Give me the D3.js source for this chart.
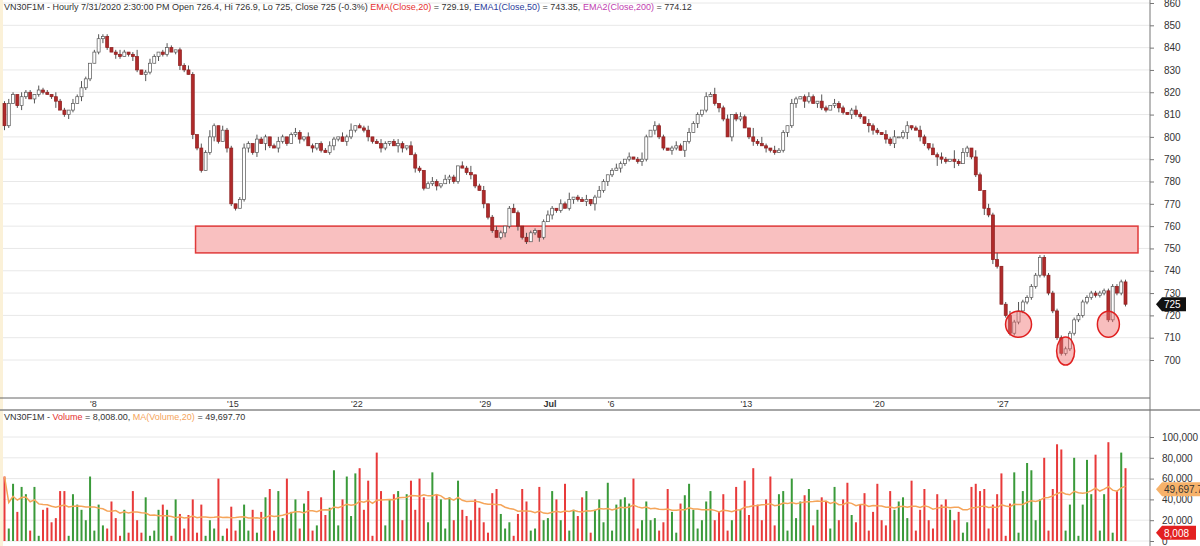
<!DOCTYPE html>
<html>
<head>
<meta charset="utf-8">
<script src="https://cdnjs.cloudflare.com/ajax/libs/d3/7.8.5/d3.min.js"></script>
<style>
	body { margin: 0; background: #fff; }
	text { font-family: "Liberation Sans", Arial, sans-serif; }
</style>
</head>
<body>
<svg id="chart" width="1200" height="546"></svg>
<script>
//===== DATA =====//

var closes = [805,815, 819,814,818,820,817,819,821,820,819,818, 816,812,810,812, 815,818,822,826, 833,838,
	844,845,840, 838,837,836,838,837,836, 830,828,829, 833,836,838,837, 840,838,839, 832,830,828, 801, 795,785,
	793,800,805,798, 803,795, 770,768,772, 795,797,793,799,797,800,796,795,798,800,797,801,802,799,
	800,796,795,797,794, 793,796,799,800,798,800, 803,805,804,803, 800,798,797,795, 797,798,796,797,795,796,
	792,786,785, 777,779,780,778,779, 781,782,780, 787,786,784,783, 778,776, 770,764,758,755, 757,760, 768,766,
	760,755,753, 757,758,755, 762,765,768,767,770, 768,772,773, 772,771,772,770, 773,776,780,783,785,
	786,788,790,791,790,789,790, 800,803,805, 800,795,794, 795,796,794, 798,802,806,810,812, 818,819,
	815,813,808, 800, 810,808,809, 804,800,798,797, 796,795,794,793,794, 802,805, 815,817, 818,816,818,815,816,
	813,812,814,815,813, 811,810,812,810,809, 806,805,803,802,801, 799,797, 800,800, 802,805,804,803,
	800,797,795, 792,791,790,789,790, 789,788,793, 795,791, 783,776, 768,765, 745,742, 725,720,712,
	717,722,726,728, 733,738,746, 738, 730,722, 710,703, 705,712,718, 720,726,728, 730,729,730, 731, 718,
	733,730,735,725];

// wick extension above / below the body, in points
var wickHi = '1210211021102110213101211012101301210121011210213102110121021101210121021011210213011201210121021101210211021301201210121021101210213011201210121020131021101210211021301201210413102110210121031021101210211021301201210212104121031021301214';
var wickLo = '2101210211013012102110121021012103102110121021101210211012120310211012102110121021101210211032102110121021101210211012102110121021101210213012102110121021102103102110121021101210211012120310211012102110321021201310211042103102110312101';

// volume, thousands
var volumes = [62,12,55,28,52,45,10,52,5,30,
	32,18,22,48,48,5,45,35,30,20,
	62,10,35,15,12,38,22,5,30,8,
	48,20,8,42,5,10,30,35,30,5,
	40,26,12,25,40,8,35,5,20,12,
	60,5,12,33,10,20,35,10,30,8,
	28,42,50,10,48,22,60,28,40,12,
	36,48,10,15,42,25,32,68,15,40,
	62,24,65,70,30,58,5,85,48,15,
	40,45,48,20,45,58,30,60,42,18,
	66,45,40,12,42,20,58,30,24,20,
	40,32,18,8,46,50,26,12,18,5,
	26,50,38,10,12,52,20,22,48,40,
	20,55,10,30,24,42,48,8,30,40,
	18,56,10,35,40,42,36,60,12,20,
	38,20,22,10,18,50,28,8,36,44,
	55,30,12,20,38,48,20,28,45,10,
	20,52,30,58,25,70,35,20,40,62,
	15,45,48,10,60,22,38,44,50,15,
	30,42,38,12,52,20,40,56,25,18,
	35,46,10,28,55,20,15,48,30,38,
	42,22,58,10,30,50,20,12,45,35,
	40,30,20,28,8,18,52,55,48,50,
	12,35,45,65,5,36,66,8,48,75,
	68,20,40,80,10,50,93,88,10,35,
	80,5,35,78,45,83,10,45,95,8,
	48,85,70,50,80,8,8];

var priceTicks = d3.range(700, 861, 10);
var volumeTicks = [0, 20000, 40000, 60000, 80000, 100000];
var dateLabels = [
	{i: 20, label: "'8"}, {i: 52, label: "'15"}, {i: 81, label: "'22"}, {i: 111, label: "'29"},
	{i: 126, label: 'Jul'}, {i: 141, label: "'6"}, {i: 172, label: "'13"}, {i: 203, label: "'20"},
	{i: 232, label: "'27"}
];
var zone = {top: 760, bottom: 748, from: 45};
var circles = [{i: 237, p: 716, rx: 13, ry: 13}, {i: 248, p: 704, rx: 9, ry: 14}, {i: 258, p: 716, rx: 11, ry: 13}];

//===== BUILD CANDLES =====//

var candles = closes.map(function (c, i) {
	var o = i === 0 ? 815 : closes[i - 1];
	var hi = +(wickHi[i] || 1), lo = +(wickLo[i] || 1);
	return {i: i, open: o, close: c, high: Math.max(o, c) + hi, low: Math.min(o, c) - lo,
		volume: (volumes[i] || 10) * 1000};
});
candles.forEach(function (d, i) {
	var win = candles.slice(Math.max(0, i - 19), i + 1);
	d.ma = d3.mean(win, function (w) { return w.volume; });
});

//===== SCALES =====//

var svg = d3.select('#chart');
var axisX = 1150;
var x = d3.scaleBand().domain(d3.range(candles.length)).range([3, 1127]).paddingInner(0.3);
var y = d3.scaleLinear().domain([700, 860]).range([360, 3]);
var yv = d3.scaleLinear().domain([0, 100000]).range([541, 437]);
function cx(i) { return x(i) + x.bandwidth() / 2; }

svg.append('rect').attr('x', 0).attr('y', 0).attr('width', 3).attr('height', 546).attr('fill', '#fbf1d8');

// grid
svg.append('g').selectAll('line').data(priceTicks).enter().append('line')
	.attr('x1', 3).attr('x2', axisX).attr('y1', y).attr('y2', y)
	.attr('stroke', '#e8e8e8');
svg.append('g').selectAll('line').data(volumeTicks).enter().append('line')
	.attr('x1', 3).attr('x2', axisX).attr('y1', yv).attr('y2', yv)
	.attr('stroke', '#e8e8e8');

// panel frames
svg.append('line').attr('x1', 0).attr('x2', axisX).attr('y1', 398).attr('y2', 398).attr('stroke', '#666');
svg.append('line').attr('x1', 0).attr('x2', 1200).attr('y1', 410).attr('y2', 410).attr('stroke', '#888').attr('stroke-width', 1.5);
svg.append('line').attr('x1', axisX).attr('x2', axisX).attr('y1', 0).attr('y2', 546).attr('stroke', '#777');

// axes
function styleAxis(g) {
	g.select('.domain').remove();
	g.selectAll('text').attr('font-size', 10).attr('fill', '#333');
	g.selectAll('line').attr('stroke', '#777');
}
svg.append('g').attr('transform', 'translate(' + axisX + ',0)')
	.call(d3.axisRight(y).tickValues(priceTicks).tickSize(4).tickPadding(10)).call(styleAxis);
svg.append('g').attr('transform', 'translate(' + axisX + ',0)')
	.call(d3.axisRight(yv).tickValues(volumeTicks).tickFormat(d3.format(',')).tickSize(4).tickPadding(8)).call(styleAxis);

// date labels
svg.append('g').selectAll('text').data(dateLabels).enter().append('text')
	.attr('x', function (d) { return cx(d.i); }).attr('y', 407)
	.attr('font-size', 9).attr('fill', '#333').attr('font-weight', function (d) { return d.label === 'Jul' ? 'bold' : 'normal'; })
	.text(function (d) { return d.label; });

// support zone
svg.append('rect')
	.attr('x', x(zone.from)).attr('width', 1138 - x(zone.from))
	.attr('y', y(zone.top)).attr('height', y(zone.bottom) - y(zone.top))
	.attr('fill', '#f9c0c0').attr('stroke', '#e03a3a').attr('stroke-width', 1.5);

// candles
var cg = svg.append('g');
cg.selectAll('line').data(candles).enter().append('line')
	.attr('x1', function (d) { return cx(d.i); }).attr('x2', function (d) { return cx(d.i); })
	.attr('y1', function (d) { return y(d.high); }).attr('y2', function (d) { return y(d.low); })
	.attr('stroke', '#555');
cg.selectAll('rect').data(candles).enter().append('rect')
	.attr('x', function (d) { return x(d.i); }).attr('width', x.bandwidth())
	.attr('y', function (d) { return y(Math.max(d.open, d.close)); })
	.attr('height', function (d) { return Math.max(1, Math.abs(y(d.open) - y(d.close))); })
	.attr('fill', function (d) { return d.close >= d.open ? '#fff' : '#b02a2a'; })
	.attr('stroke', function (d) { return d.close >= d.open ? '#555' : '#8a1f1f'; })
	.attr('stroke-width', 0.7);

// circles
svg.append('g').selectAll('ellipse').data(circles).enter().append('ellipse')
	.attr('cx', function (d) { return cx(d.i); }).attr('cy', function (d) { return y(d.p); })
	.attr('rx', function (d) { return d.rx; }).attr('ry', function (d) { return d.ry; })
	.attr('fill', 'rgba(240,110,110,0.45)').attr('stroke', '#e02020').attr('stroke-width', 1.5);

// volume bars
svg.append('g').selectAll('rect').data(candles).enter().append('rect')
	.attr('x', function (d) { return cx(d.i) - 1; }).attr('width', 2)
	.attr('y', function (d) { return yv(d.volume); })
	.attr('height', function (d) { return yv(0) - yv(d.volume); })
	.attr('fill', function (d) { return d.close >= d.open ? '#3a9a3a' : '#e83a3a'; });

var maLine = d3.line().x(function (d) { return cx(d.i); }).y(function (d) { return yv(d.ma); });
svg.append('path').datum(candles).attr('d', maLine)
	.attr('fill', 'none').attr('stroke', '#f5a55a').attr('stroke-width', 1.5);

// value badges
function badge(yPos, txt, fill, color, w) {
	var g = svg.append('g');
	g.append('path').attr('d', 'M' + (axisX + 6) + ',' + yPos + 'l6,-7h' + w + 'v14h-' + w + 'z').attr('fill', fill);
	g.append('text').attr('x', axisX + 14).attr('y', yPos + 4).attr('font-size', 10).attr('fill', color).text(txt);
}
var last = candles[candles.length - 1];
badge(y(last.close), '725', '#111', '#fff', 24);
badge(yv(49697.7), '49,697.7', '#f7b26a', '#333', 50);
badge(yv(8008), '8,008', '#e32020', '#fff', 34);

// titles
var t1 = svg.append('text').attr('x', 4).attr('y', 10).attr('font-size', 9).attr('fill', '#333');
t1.append('tspan').text('VN30F1M - Hourly 7/31/2020 2:30:00 PM Open 726.4, Hi 726.9, Lo 725, Close 725 (-0.3%) ');
t1.append('tspan').attr('fill', '#e53030').text('EMA(Close,20)');
t1.append('tspan').text(' = 729.19, ');
t1.append('tspan').attr('fill', '#2a3a9a').text('EMA1(Close,50)');
t1.append('tspan').text(' = 743.35, ');
t1.append('tspan').attr('fill', '#c040b0').text('EMA2(Close,200)');
t1.append('tspan').text(' = 774.12');

var t2 = svg.append('text').attr('x', 4).attr('y', 420).attr('font-size', 9).attr('fill', '#333');
t2.append('tspan').text('VN30F1M - ');
t2.append('tspan').attr('fill', '#e53030').text('Volume');
t2.append('tspan').text(' = 8,008.00, ');
t2.append('tspan').attr('fill', '#f5a55a').text('MA(Volume,20)');
t2.append('tspan').text(' = 49,697.70');
</script>
</body>
</html>
